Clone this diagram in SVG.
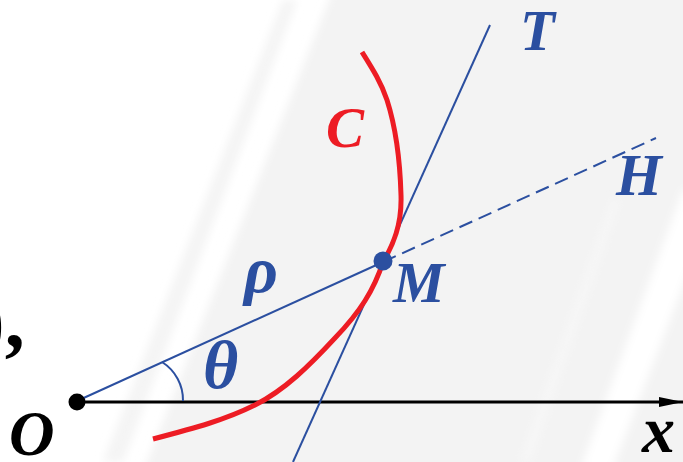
<svg xmlns="http://www.w3.org/2000/svg" width="683" height="462" viewBox="0 0 683 462">
  <defs>
    <style>
      .lbl { font-family: "Liberation Serif", "Times New Roman", serif; font-weight: bold; font-style: italic; }
      .blue { fill: #2b4fa0; }
      .red { fill: #ed1c24; }
      .blk { fill: #000000; }
      .bl { stroke: #2b4fa0; stroke-width: 2; fill: none; }
    </style>
    <marker id="arrow" viewBox="0 0 24 10" refX="24" refY="5" markerWidth="24" markerHeight="10" markerUnits="userSpaceOnUse" orient="auto">
      <path d="M0,0 L24,5 L0,10 Z" fill="#000"/>
    </marker>
    <filter id="soft" x="-10%" y="-10%" width="120%" height="120%">
      <feGaussianBlur stdDeviation="4"/>
    </filter>
  </defs>

  <g id="background">
    <rect x="0" y="0" width="683" height="462" fill="#ffffff"/>
    <polygon points="283,0 297,0 123,462 103,462" fill="#f4f4f4" filter="url(#soft)"/>
    <polygon points="337,-20 720,-20 720,480 140,480" fill="#f3f3f3" filter="url(#soft)"/>
    <polygon points="612,200 620,200 530,462 520,462" fill="#f7f7f7" filter="url(#soft)"/>
    <polygon points="683,190 720,190 612,470 580,470" fill="#ffffff" filter="url(#soft)"/>
  </g>

  <g id="connectors">
    <line id="x-axis" x1="77" y1="402" x2="683" y2="402" stroke="#000" stroke-width="3" marker-end="url(#arrow)"/>
    <line id="ray-OM" class="bl" x1="77" y1="401" x2="383" y2="262"/>
    <line id="ray-MH" class="bl" x1="383" y1="262" x2="656" y2="138" stroke-dasharray="14 7"/>
    <line id="tangent-T" class="bl" x1="490" y1="25" x2="293" y2="462"/>
    <path id="angle-arc" class="bl" d="M 183 401 A 45 45 0 0 0 162 362"/>
  </g>

  <g id="curve-C">
    <path d="M 362 52 C 372 68, 381 82, 387 100 C 395 125, 400 160, 401 195 C 402 225, 393 245, 383 262 C 374 290, 360 312, 335 338 C 310 365, 285 390, 255 405 C 225 420, 195 428, 153 439" fill="none" stroke="#ed1c24" stroke-width="5"/>
  </g>

  <g id="point-O">
    <circle cx="77" cy="402" r="8.5" fill="#000"/>
  </g>
  <g id="point-M">
    <circle cx="383" cy="261" r="9.5" fill="#2b4fa0"/>
  </g>

  <g id="labels">
    <text class="lbl blue" x="520" y="50" font-size="57">T</text>
    <text class="lbl red" x="326" y="147" font-size="57">C</text>
    <text class="lbl blue" x="616" y="195" font-size="59">H</text>
    <text class="lbl blue" x="393" y="302" font-size="58">M</text>
    <text class="lbl blue" x="244" y="292" font-size="66">ρ</text>
    <text class="lbl blue" x="203" y="388" font-size="68">θ</text>
    <text class="lbl blk" x="9" y="455" font-size="63">O</text>
    <text class="lbl blk" x="642" y="452" font-size="66">x</text>
    <text class="blk" x="-22" y="347" font-size="80" font-weight="bold" font-family="Liberation Serif, serif">),</text>
  </g>
</svg>
